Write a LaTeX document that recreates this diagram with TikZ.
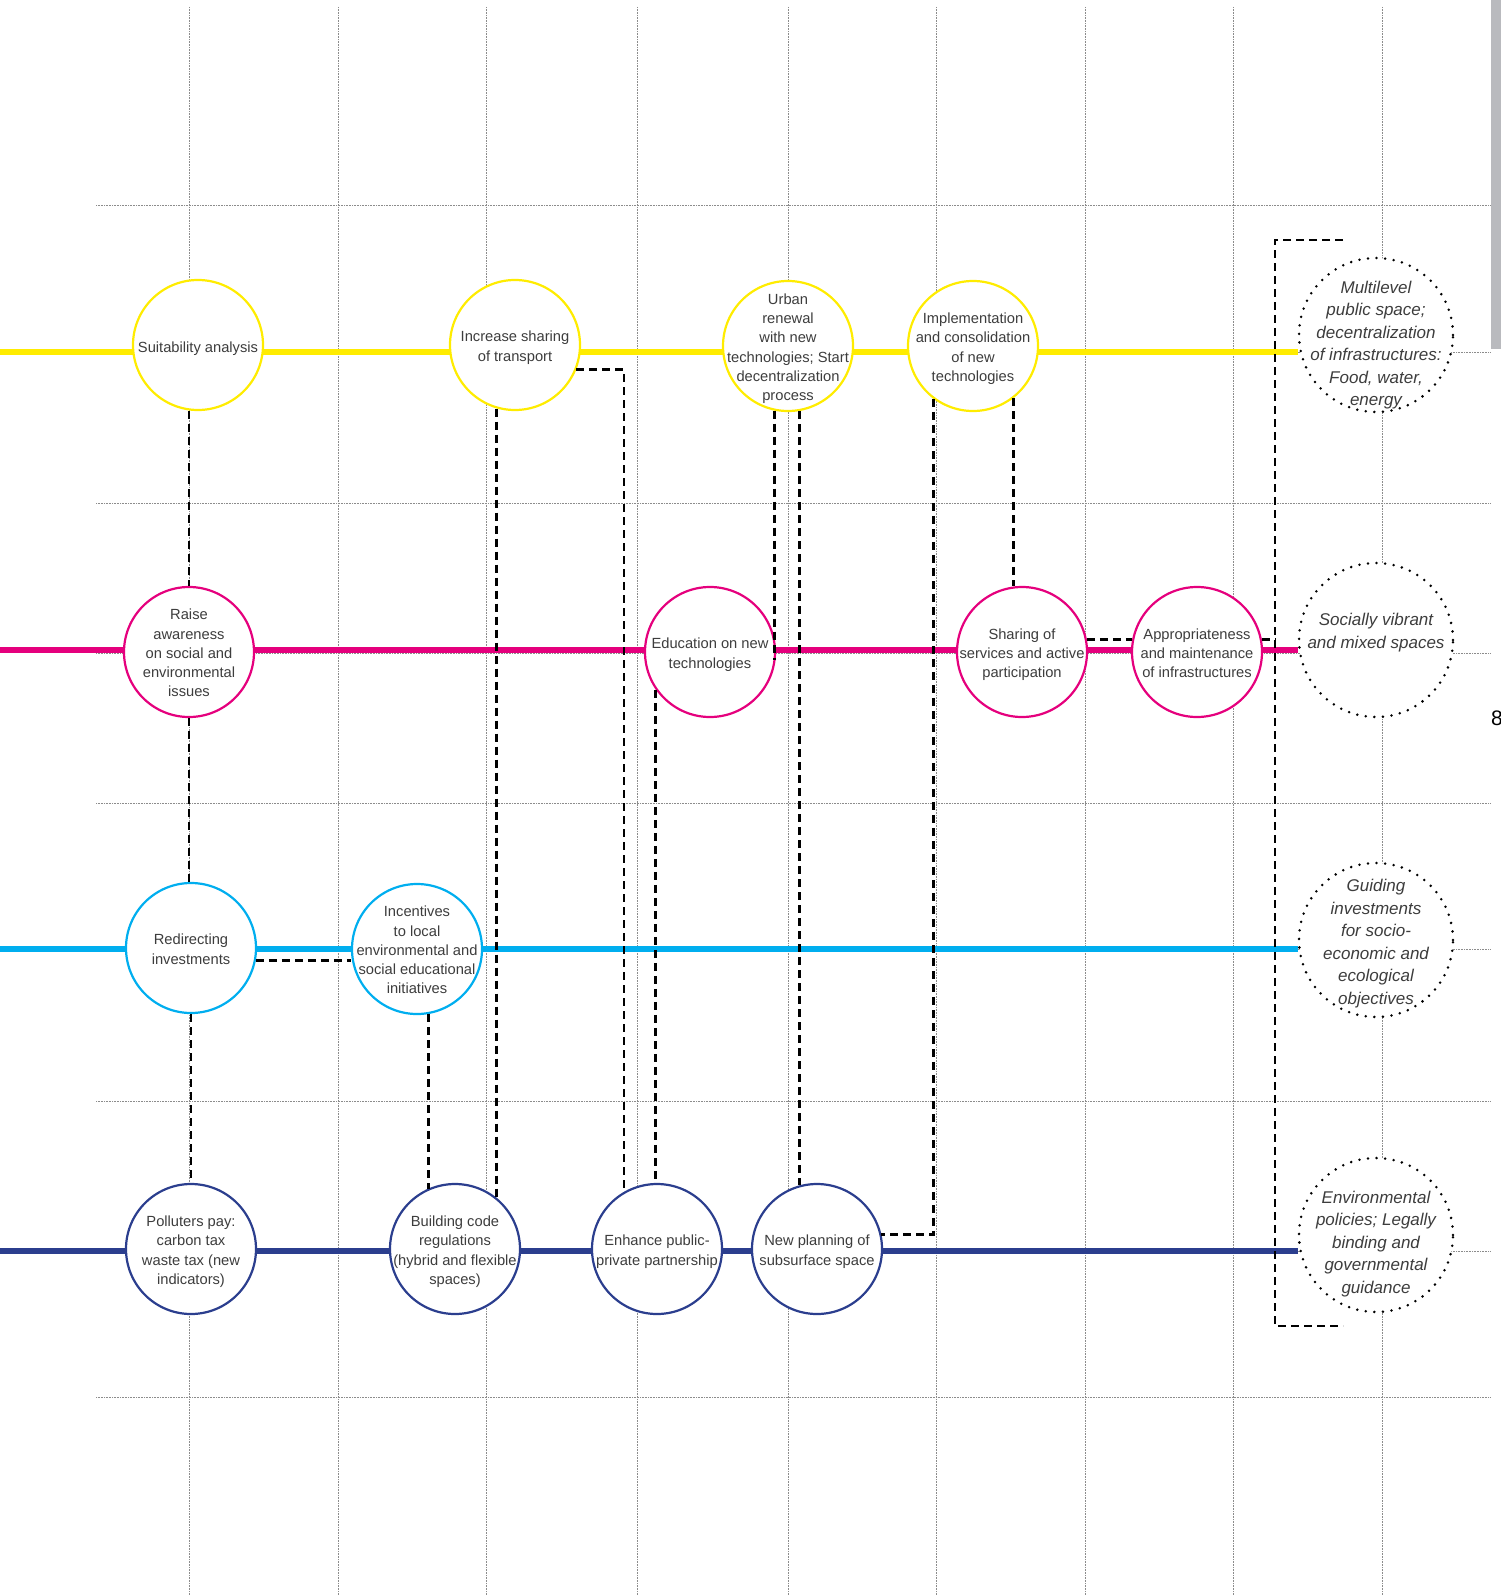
\documentclass[tikz,border=0pt]{standalone}
\usepackage{fontspec}
\setmainfont{Liberation Sans}
\usepackage{xcolor}
\usepackage{tikz}
\usetikzlibrary{backgrounds}

\definecolor{ylw}{HTML}{FFEC00}
\definecolor{mag}{HTML}{E5007D}
\definecolor{cyn}{HTML}{00AEEF}
\definecolor{nvy}{HTML}{2B3E8E}
\definecolor{txtgray}{HTML}{3D3D3D}
\definecolor{gridgray}{HTML}{8C8C8C}
\definecolor{tabgray}{HTML}{B9BABE}

\begin{document}
\begin{tikzpicture}[x=1pt, y=-1pt,
    stage/.style={circle, draw, line width=2.2pt, fill=white, minimum size=130pt, inner sep=0pt},
    goal/.style={circle, draw=black, fill=white, line width=2.8pt, line cap=round,
        dash pattern=on 0pt off 8.6pt, minimum size=154pt, inner sep=0pt},
    txt/.style={align=center, text=txtgray, inner sep=0pt, yshift=-4pt, font=\fontsize{14.7}{19.25}\selectfont,
        execute at begin node=\strut, execute at end node=\strut},
    goaltxt/.style={txt, font=\fontsize{17}{22.5}\selectfont\itshape},
    lane/.style={line width=5.5pt},
    link/.style={line width=2.9pt, dash pattern=on 8pt off 5pt},
    gridline/.style={gridgray, line width=0.8pt, dash pattern=on 0.8pt off 0.8pt}]
    \useasboundingbox (0,0) rectangle (1501,1595);

    % 黄色
    \node[stage, draw=ylw] (suit) at (198,345) {};
    \node[txt] (suit-t) at (suit) {Suitability analysis};
    \node[stage, draw=ylw] (share) at (515,345) {};
    \node[txt] (share-t) at (share) {Increase sharing\\of transport};
    \node[stage, draw=ylw] (urban) at (788,346) {};
    \node[txt] (urban-t) at (urban) {Urban\\renewal\\with new\\technologies; Start\\decentralization\\process};
    \node[stage, draw=ylw] (impl) at (973,346) {};
    \node[txt] (impl-t) at (impl) {Implementation\\and consolidation\\of new\\technologies};

    % 品红
    \node[stage, draw=mag] (raise) at (189,652) {};
    \node[txt] (raise-t) at (raise) {Raise\\awareness\\on social and\\environmental\\issues};
    \node[stage, draw=mag] (edu) at (710,652) {};
    \node[txt] (edu-t) at (edu) {Education on new\\technologies};
    \node[stage, draw=mag] (serv) at (1022,652) {};
    \node[txt] (serv-t) at (serv) {Sharing of\\services and active\\participation};
    \node[stage, draw=mag] (approp) at (1197,652) {};
    \node[txt] (approp-t) at (approp) {Appropriateness\\and maintenance\\of infrastructures};

    % 青色
    \node[stage, draw=cyn] (redir) at (191,948) {};
    \node[txt] (redir-t) at (redir) {Redirecting\\investments};
    \node[stage, draw=cyn] (incent) at (417,949) {};
    \node[txt] (incent-t) at (incent) {Incentives\\to local\\environmental and\\social educational\\initiatives};

    % 深蓝
    \node[stage, draw=nvy] (poll) at (191,1249) {};
    \node[txt] (poll-t) at (poll) {Polluters pay:\\carbon tax\\waste tax (new\\indicators)};
    \node[stage, draw=nvy] (build) at (455,1249) {};
    \node[txt] (build-t) at (build) {Building code\\regulations\\(hybrid and flexible\\spaces)};
    \node[stage, draw=nvy] (enh) at (657,1249) {};
    \node[txt] (enh-t) at (enh) {Enhance public-\\private partnership};
    \node[stage, draw=nvy] (newp) at (817,1249) {};
    \node[txt] (newp-t) at (newp) {New planning of\\subsurface space};

    % 目标
    \node[goal] (g1) at (1376,335) {};
    \node[goaltxt, yshift=-7.5pt] (g1-t) at (g1) {Multilevel\\public space;\\decentralization\\of infrastructures:\\Food, water,\\energy};
    \node[goal] (g2) at (1376,640) {};
    \node[goaltxt, yshift=10pt] (g2-t) at (g2) {Socially vibrant\\and mixed spaces};
    \node[goal] (g3) at (1376,940) {};
    \node[goaltxt, yshift=-1pt] (g3-t) at (g3) {Guiding\\investments\\for socio-\\economic and\\ecological\\objectives};
    \node[goal] (g4) at (1376,1235) {};
    \node[goaltxt, yshift=-6.5pt] (g4-t) at (g4) {Environmental\\policies; Legally\\binding and\\governmental\\guidance};

    % 网格和彩线
    \begin{pgfonlayer}{background}
        \foreach \gx in {189,338,486,637,788,936,1085,1233,1382}
            \draw[gridline] (\gx,7) -- (\gx,1595);
        \foreach \gy in {205,352,503,653,803,949,1101,1251,1397}
            \draw[gridline] (96,\gy) -- (1491,\gy);
        \fill[tabgray] (1491,0) rectangle (1501,349);
        \coordinate (ylw0) at (0,352);
        \coordinate (mag0) at (0,650);
        \coordinate (cyn0) at (0,949);
        \coordinate (nvy0) at (0,1251);
        \draw[lane, ylw] (ylw0) -- (ylw0 -| g1.west);
        \draw[lane, mag] (mag0) -- (mag0 -| g2.west);
        \draw[lane, cyn] (cyn0) -- (cyn0 -| g3.west);
        \draw[lane, nvy] (nvy0) -- (nvy0 -| g4.west);
    \end{pgfonlayer}

    % 虚线
    \draw[link] (raise.north |- suit.south) -- (raise.north);
    \draw[link] (raise.south) -- (raise.south |- redir.north);
    \draw[link] (redir.south) -- (poll.north);
    \draw[link] (redir.-11) -- (redir.-11 -| incent.west);
    \draw[link] (incent.-80) -- (incent.-80 |- build.115);
    \draw[link] (share.254) -- (share.254 |- build.49);
    \draw[link] (share.-22) -| (enh.120);
    \draw[link] (edu.215) -- (edu.215 |- enh.north);
    \draw[link] (urban.258) -- (urban.258 |- edu.-7);
    \draw[link] (urban.-80) -- (urban.-80 |- newp.106);
    \draw[link] (impl.233) |- (newp.13);
    \draw[link] (impl.-52) -- (impl.-52 |- serv.97);
    \draw[link] (serv.11) -- (serv.11 -| approp.169);

    % 括号
    \coordinate (brtr) at (1343,240);
    \coordinate (brtl) at (1275,240);
    \coordinate (brbl) at (1275,1326);
    \coordinate (brbr) at (1343,1326);
    \draw[link] (approp.11) -- (approp.11 -| brtl);
    \draw[link] (brtr) -- (brtl) -- (brbl) -- (brbr);

    % 页码
    \node[anchor=west, inner sep=0pt, font=\fontsize{21}{21}\selectfont] (pagenum) at (1491,718) {8};
\end{tikzpicture}
\end{document}
